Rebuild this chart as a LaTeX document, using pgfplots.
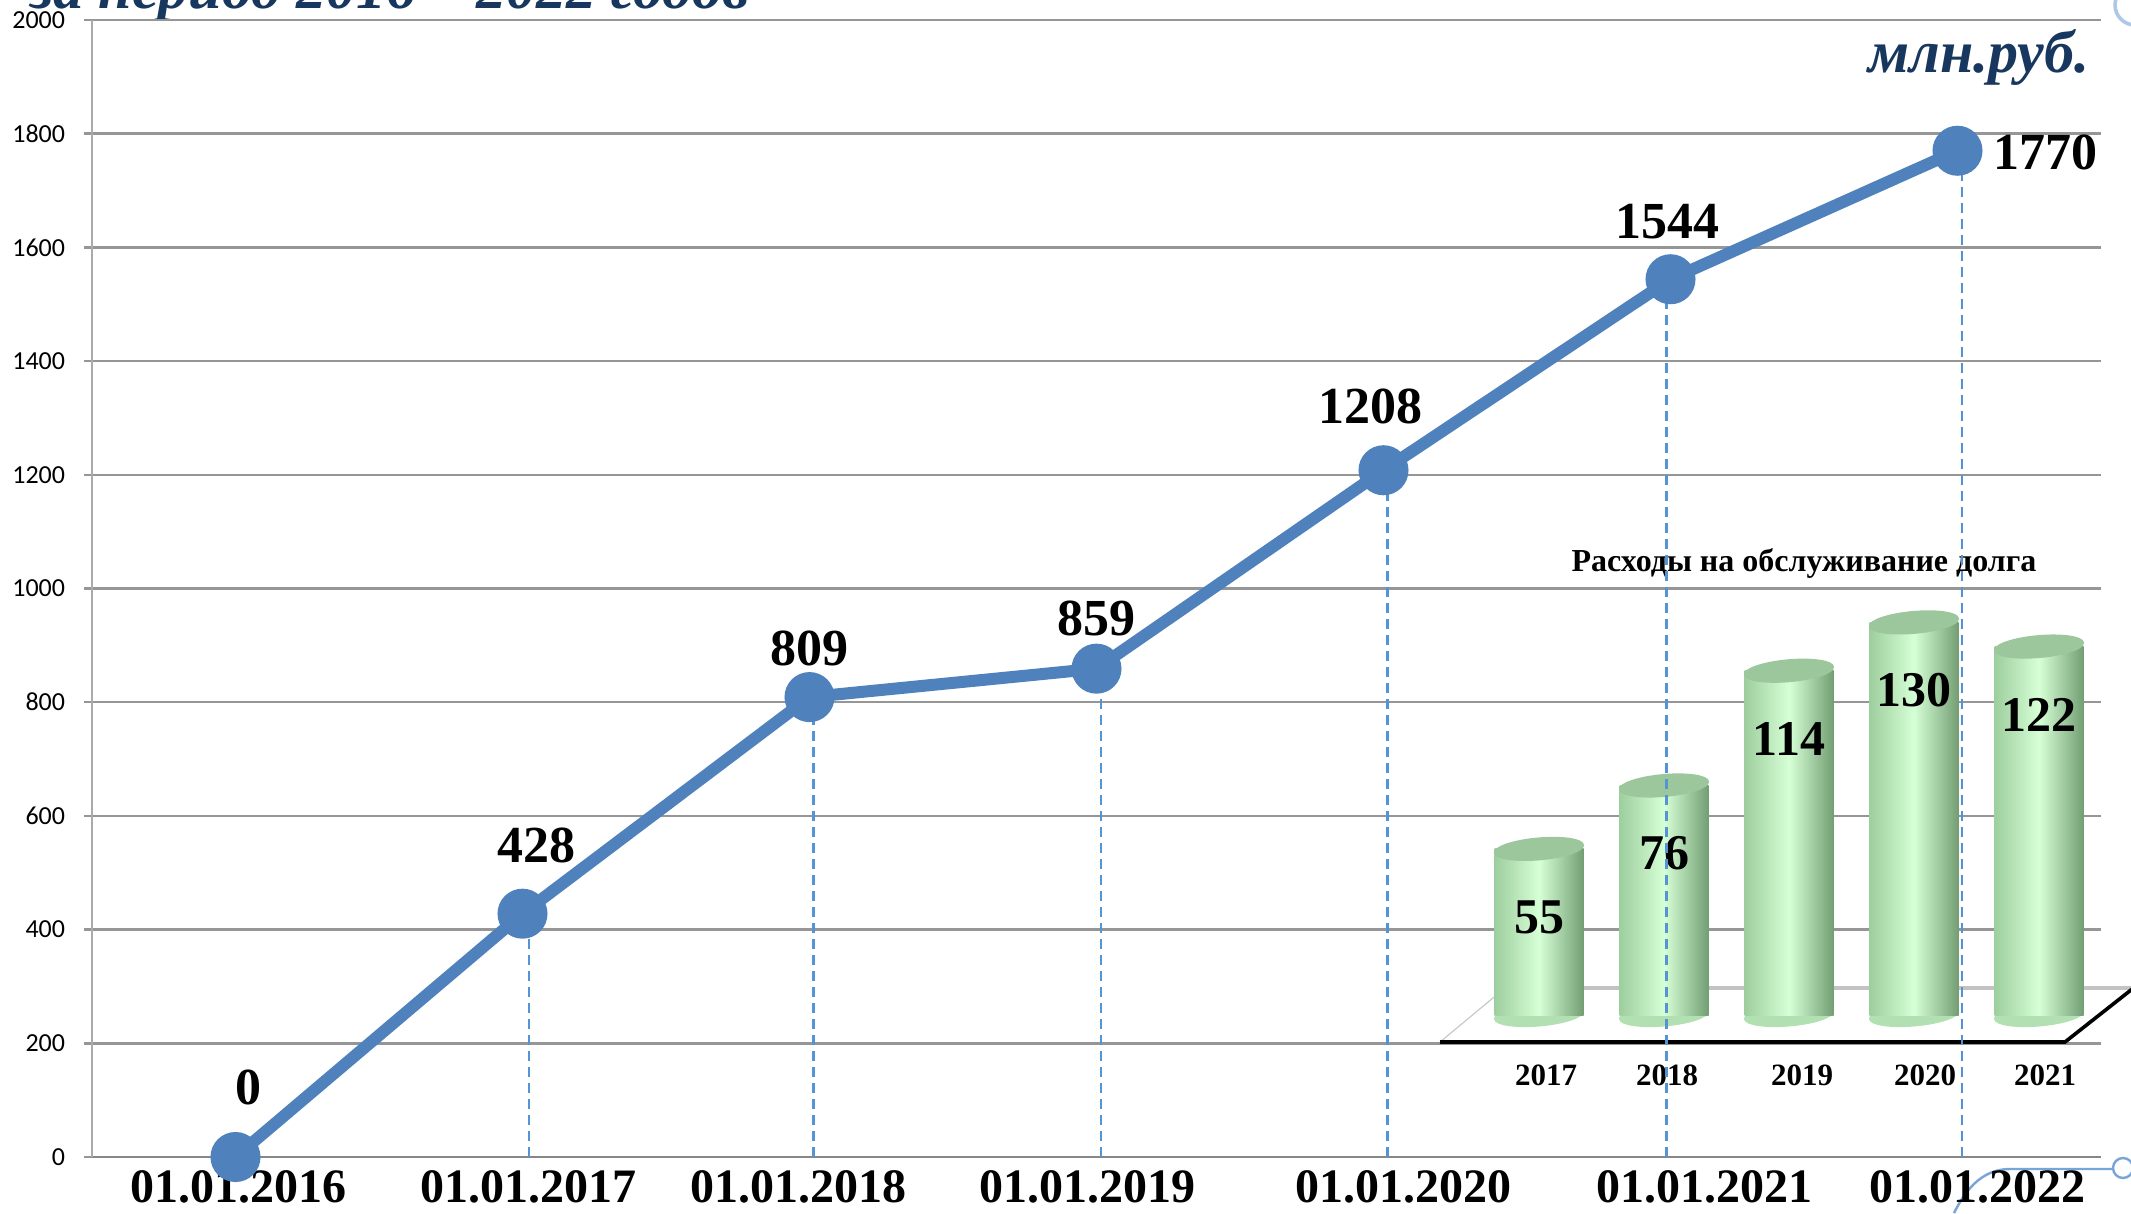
\documentclass[border=0pt]{standalone}
\usepackage{fontspec}
\setmainfont{Liberation Serif}
\newfontfamily\carlito{Carlito}
\usepackage{pgfplots}
\pgfplotsset{compat=1.18}
\usepackage{pgfplotstable}
\pgfkeys{/pgf/number format/.cd,1000 sep={},assume math mode=true}

\definecolor{lineblue}{RGB}{79,129,189}
\definecolor{dropblue}{RGB}{84,148,210}
\definecolor{gridgray}{RGB}{150,150,150}
\definecolor{axisgray}{RGB}{135,135,135}
\definecolor{titleblue}{RGB}{23,55,94}
\definecolor{cylL}{RGB}{158,206,158}
\definecolor{cylM}{RGB}{214,255,214}
\definecolor{cylR}{RGB}{115,158,115}
\definecolor{cylTop}{RGB}{156,198,156}
\definecolor{cylBot}{RGB}{178,224,178}
\definecolor{decoblue}{RGB}{120,165,215}

\pgfplotstableread{
x y
0 0
1 428
2 809
3 859
4 1208
5 1544
6 1770
}\debt

\pgfplotstableread{
x y dx dy
0 0 3.25 17.5
1 428 3.5 17
2 809 0 12.25
3 859 0 12.5
4 1208 -3.25 16
5 1544 -0.75 14.5
6 1770 22 -0.5
}\debtlabels

\pgfplotstableread{
x y
1.024 428
2.014 809
3.017 859
4.014 1208
4.986 1544
6.017 1770
}\drops

\pgfplotstableread{
x y
0 55
1 76
2 114
3 130
4 122
}\cost

\pgfplotsset{
  insetgeom/.style={
    at={(369.125pt,49.5pt)}, anchor=south west,
    scale only axis, width=156.25pt, height=113.25pt,
    xmin=-0.5, xmax=4.5, ymin=0, ymax=150, clip=false,
  },
  maingeom/.style={
    at={(23pt,14pt)}, anchor=south west,
    scale only axis, width=502.25pt, height=284.25pt,
    xmin=-0.5, xmax=6.5, ymin=0, ymax=2000,
  },
  cyl/.style={ybar, bar width=22.25pt, draw=none, left color=cylL, right color=cylR, middle color=cylM},
}

\begin{document}
\begin{tikzpicture}
\useasboundingbox (0,0) rectangle (532.75pt,303.25pt);
\clip (0,0) rectangle (532.75pt,303.25pt);

% decorations of the slide
\draw[decoblue!60, line width=0.9pt] (533.75pt,302pt) circle (5pt);
\draw[decoblue, line width=0.6pt] (528.25pt,11pt) -- (502.5pt,11pt) .. controls (495pt,11pt) and (491pt,5pt) .. (488.5pt,0pt);
\draw[decoblue, line width=0.6pt, fill=white] (530.75pt,11.25pt) circle (2.5pt);

\node[anchor=base east, inner sep=0pt, text=titleblue, font=\bfseries\itshape\fontsize{15}{15}\selectfont] at (187.5pt,301pt) {за период 2016 – 2022 годов};
\node[anchor=base east, inner sep=0pt, text=titleblue, font=\bfseries\itshape\fontsize{15}{15}\selectfont] at (522.5pt,285pt) {млн.руб.};

% main axis: grid and labels
\begin{axis}[
  maingeom,
  axis x line*=bottom, axis y line*=left,
  x axis line style={axisgray, line width=0.7pt, -},
  y axis line style={gridgray!80, line width=0.5pt, -},
  ytick={0,200,...,2000},
  ymajorgrids, grid style={gridgray, line width=0.6pt},
  tick align=outside, major tick length=2pt,
  ytick style={gridgray, line width=0.6pt},
  yticklabel style={font=\carlito\fontsize{6.5}{7}\selectfont, xshift=-1.2pt},
  xtick={0.01,1.02,1.96,2.97,4.07,5.12,6.07},
  xticklabels={01.01.2016,01.01.2017,01.01.2018,01.01.2019,01.01.2020,01.01.2021,01.01.2022},
  xtick style={draw=none},
  xticklabel style={font=\bfseries\fontsize{12}{12}\selectfont, yshift=2.25pt},
]
\end{axis}

% inset, lower layer: floor and cylinder bottoms
\begin{axis}[insetgeom, hide axis]
\draw[line width=1pt, color={rgb,255:red,195;green,195;blue,195}] (axis cs:-0.272,8.94) -- (axis cs:4.9,8.94);
\draw[line width=0.3pt, color={rgb,255:red,200;green,200;blue,200}] (axis cs:-0.792,-8.94) -- (axis cs:-0.272,8.94);
\draw[line width=0.9pt, black] (axis cs:-0.792,-8.94) -- (axis cs:4.208,-8.94) -- (axis cs:4.756,8.94);
\addplot[only marks, color=cylBot, mark=*, mark size=11.1pt, mark options={rotate=5, yscale=0.24}] coordinates {(0,0) (1,0) (2,0) (3,0) (4,0)};
\end{axis}

% inset, upper layer: cylinders, labels
\begin{axis}[
  insetgeom,
  axis line style={draw=none},
  ytick=\empty,
  xtick={0.056,1.024,2.104,3.088,4.048},
  xticklabels={2017,2018,2019,2020,2021},
  xtick style={draw=none},
  xticklabel style={font=\bfseries\fontsize{7.75}{8}\selectfont, anchor=center, yshift=-15pt},
  title={Расходы на обслуживание долга},
  title style={at={(0.524,0.943)}, anchor=center, font=\bfseries\fontsize{8}{8}\selectfont},
]
\addplot[cyl] table[restrict x to domain=-0.1:0.1] {\cost};
\addplot[cyl] table[restrict x to domain=0.9:1.1] {\cost};
\addplot[cyl] table[restrict x to domain=1.9:2.1] {\cost};
\addplot[cyl] table[restrict x to domain=2.9:3.1] {\cost};
\addplot[cyl] table[restrict x to domain=3.9:4.1] {\cost};
\addplot[only marks, color=cylTop, mark=*, mark size=11.1pt, mark options={rotate=5, yscale=0.24},
  nodes near coords,
  every node near coord/.append style={anchor=center, yshift=-17pt, text=black, font=\bfseries\fontsize{12.5}{12.5}\selectfont}] table {\cost};
\end{axis}

% overlay: drop lines, debt line, labels
\begin{axis}[maingeom, hide axis, clip=false]
\addplot[ycomb, dropblue, line width=0.55pt, dash pattern=on 2.5pt off 1.5pt] table {\drops};
\addplot[lineblue, line width=3pt, mark=*, mark size=4.75pt, mark options={fill=lineblue, draw=none}] table {\debt};
\addplot[draw=none, mark=none, nodes near coords,
  visualization depends on={\thisrow{dx}\as\dx},
  visualization depends on={\thisrow{dy}\as\dy},
  every node near coord/.append style={anchor=center, xshift=\dx pt, yshift=\dy pt, text=black, font=\bfseries\fontsize{13}{13}\selectfont}] table {\debtlabels};
\end{axis}
\end{tikzpicture}
\end{document}
